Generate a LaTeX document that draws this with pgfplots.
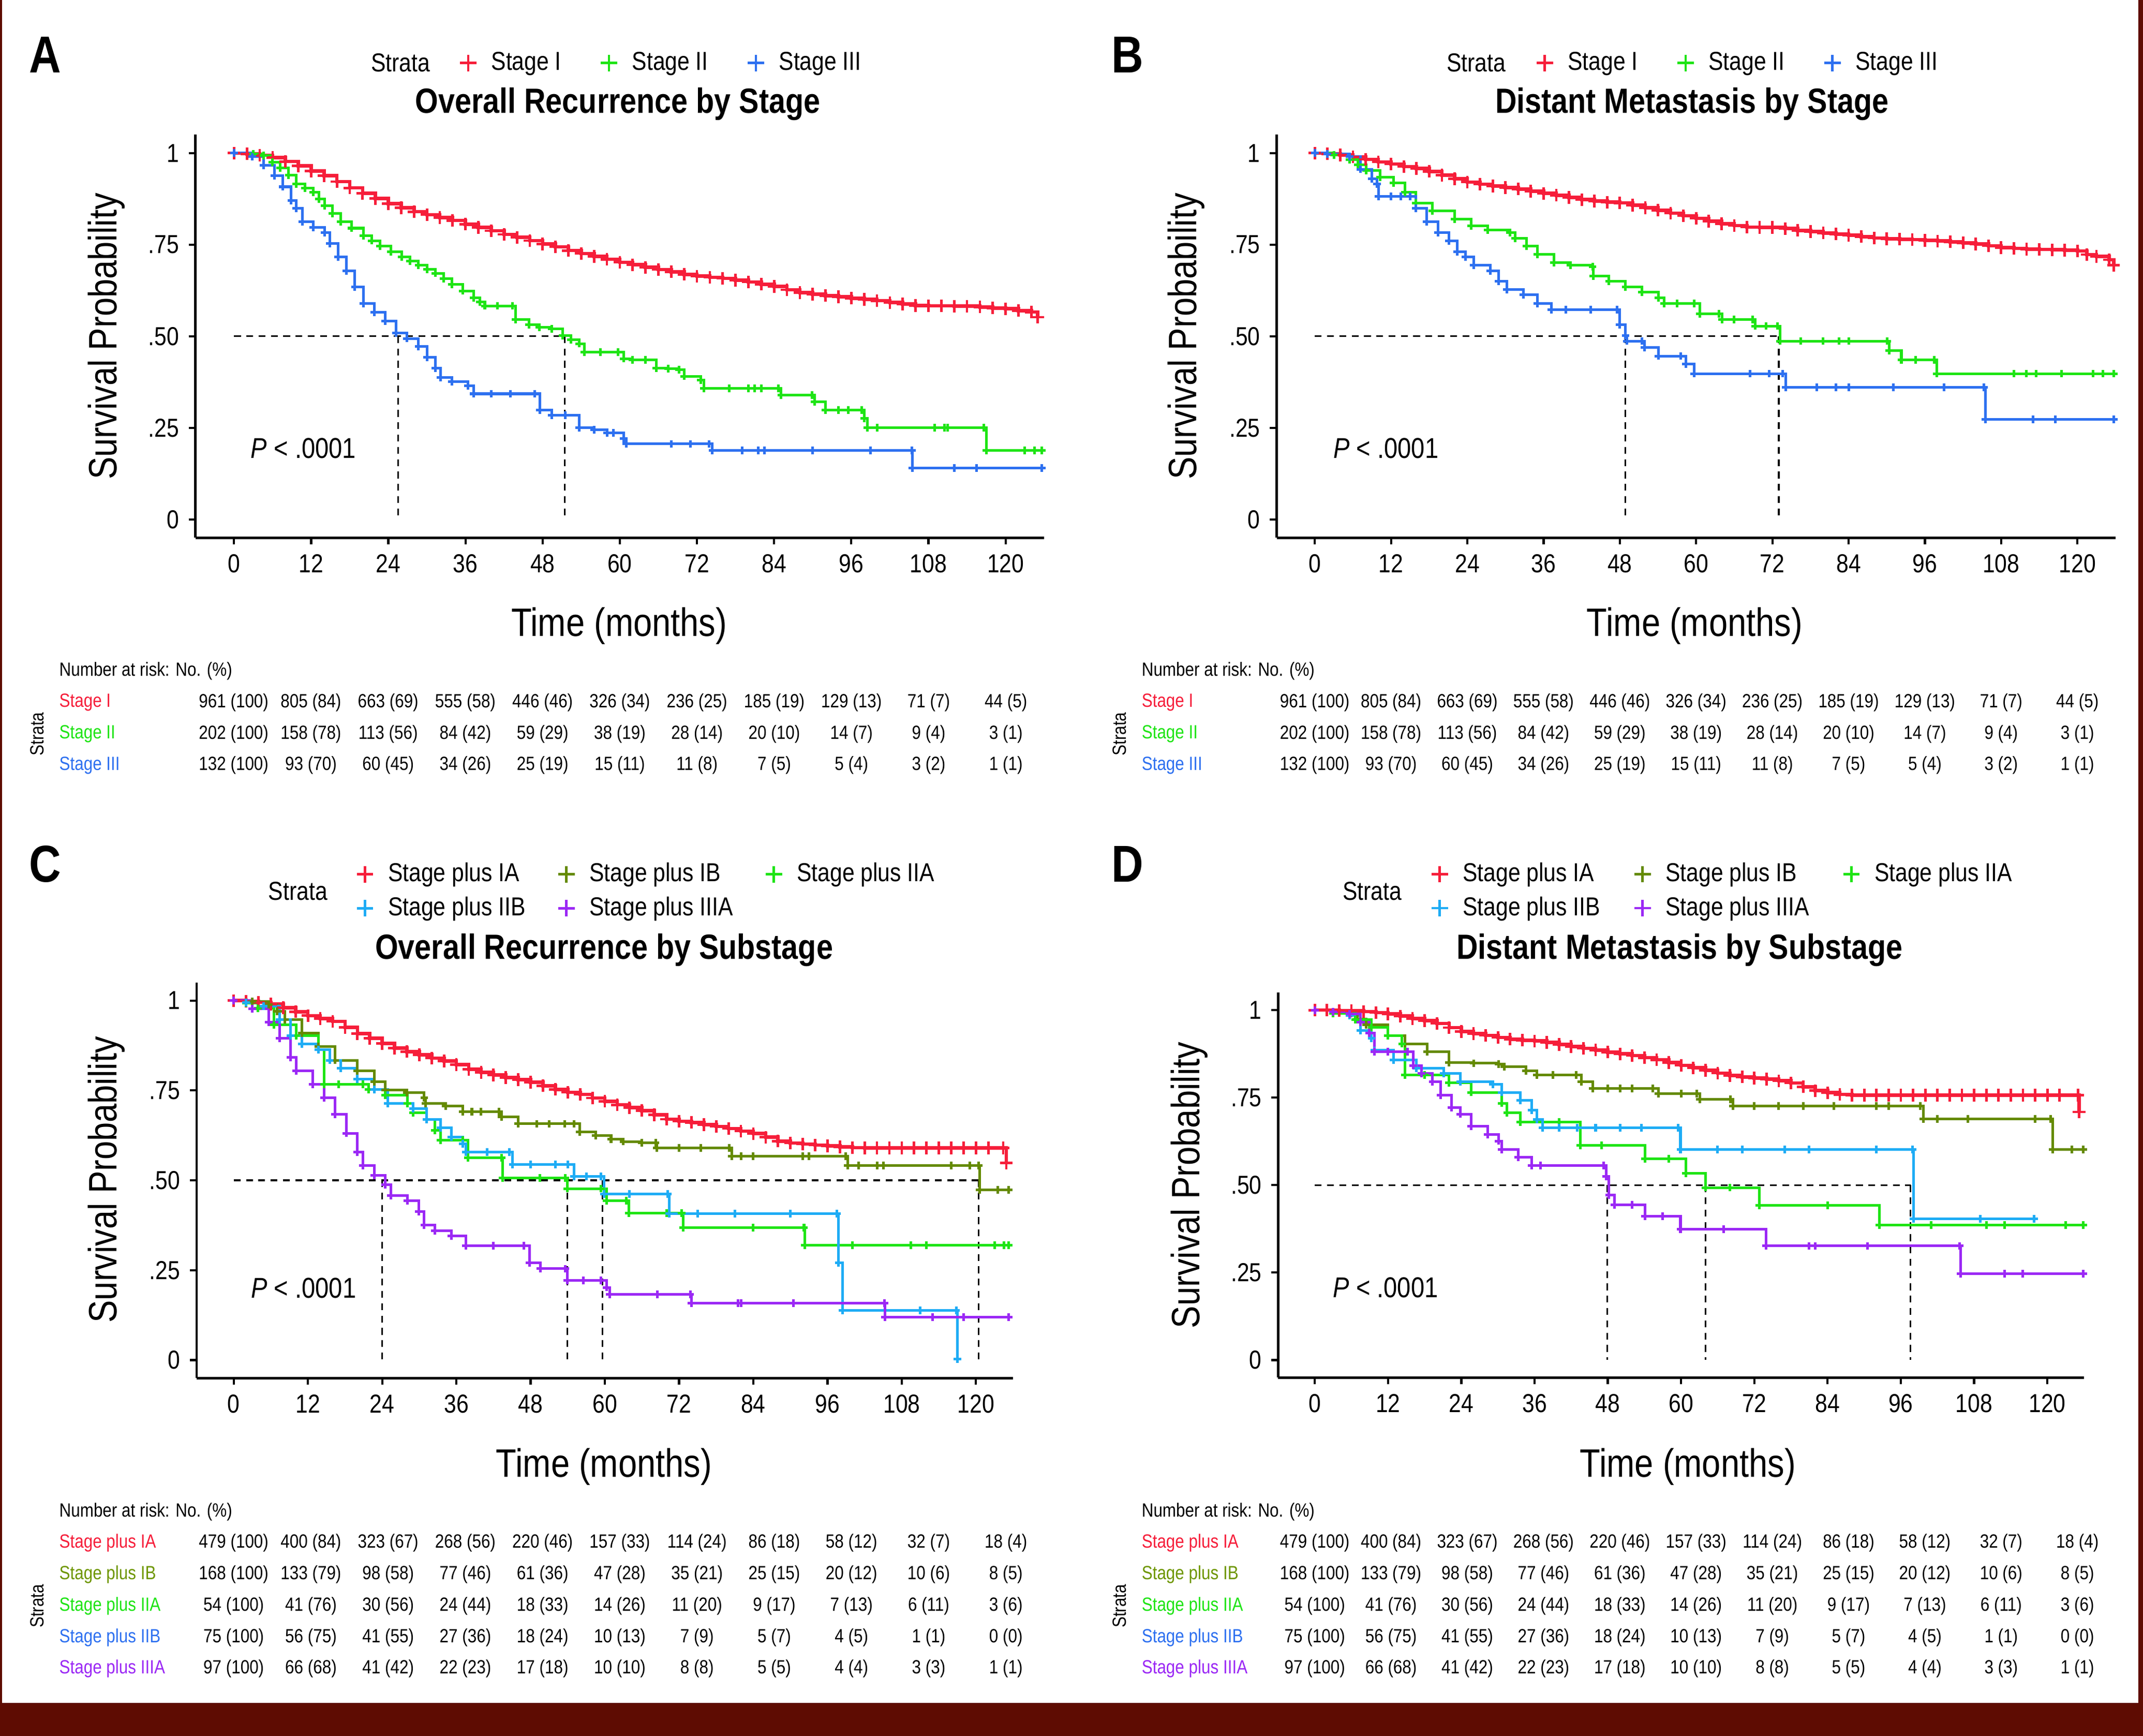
\documentclass[border=0pt]{standalone}
\usepackage{fontspec}
\setmainfont{Liberation Sans}[FakeStretch=0.85]
\usepackage{pgfplots}
\pgfplotsset{compat=1.18}

\definecolor{frame}{RGB}{94,12,2}
\definecolor{cI}{RGB}{246,30,58}
\definecolor{cII}{RGB}{30,228,20}
\definecolor{cIII}{RGB}{45,112,240}
\definecolor{cIB}{RGB}{100,138,0}
\definecolor{cIBt}{RGB}{110,150,0}
\definecolor{cIIB}{RGB}{30,172,245}
\definecolor{cIIIA}{RGB}{155,40,245}

\newcommand\fTick{\fontsize{9.5}{11}\selectfont}
\newcommand\fLab{\fontsize{14.5}{16}\selectfont}
\newcommand\fTitle{\fontsize{12.8}{14}\selectfont\bfseries}
\newcommand\fLeg{\fontsize{9.5}{11}\selectfont}
\newcommand\fRisk{\fontsize{7}{8}\selectfont}
\newcommand\fLetter{\fontsize{19}{21}\selectfont\bfseries}
\newcommand\fP{\fontsize{10.5}{12}\selectfont}
\def\px{0.5pt}

\pgfplotsset{
  km/.style={
    scale only axis, anchor=south west,
    axis x line*=bottom, axis y line*=left,
    axis line style={-, line width=0.9pt, black},
    ymin=-0.05, ymax=1.05, xmin=-6, xmax=126,
    xtick={0,12,...,120}, xticklabels={0,12,24,36,48,60,72,84,96,108,120},
    ytick={0,0.25,0.5,0.75,1}, yticklabels={0,.25,.50,.75,1},
    tick align=outside, major tick length=2.5pt,
    tick style={black, line width=0.8pt},
    ticklabel style={font=\fTick},
    legend style={draw=none, fill=none, font=\fLeg, anchor=west,
      /tikz/every odd column/.append style={column sep=3pt}},
    legend cell align=left,
    legend image code/.code={\draw[##1, sharp plot, line width=0.9pt, mark size=3pt, mark repeat=2, mark phase=2] plot coordinates {(0pt,0pt) (3pt,0pt) (6pt,0pt)};},
  },
  curve/.style={const plot, #1, line width=0.95pt, mark=+, mark size=1.4pt, every mark/.append style={solid}},
  redcurve/.style={curve=cI, line width=1.25pt, mark size=2.3pt, every mark/.append style={line width=0.9pt}},
  med/.style={black, sharp plot, mark=none, line width=0.6pt, dash pattern=on 2.5pt off 2pt, forget plot},
}

\newcommand\riskrow[4]{\foreach \v [count=\k from 0] in {#4} {\node[font=\fRisk, inner sep=0pt] at ({#1+#2*\k},#3) {\v};}}

\begin{document}
\begin{tikzpicture}
\begin{scope}[x=0.5pt, y=-0.5pt]
\useasboundingbox (0,0) rectangle (1568,1270);
\fill[frame] (0,0) rectangle (1568,1270);
\fill[white] (1.5,0) rectangle (1564.5,1246);
\end{scope}

% ---------------- A ----------------
\begin{axis}[km, at={({143*\px},{-393.4*\px})}, width=310.5pt, height=147.4pt,
  legend columns=-1, legend style={at={(0.300,1.178)},
  /tikz/every even column/.append style={column sep=12pt}}]
\addplot[med] coordinates {(0,0.5) (51.4,0.5)};
\addplot[med] coordinates {(25.5,0.5) (25.5,0)};
\addplot[med] coordinates {(51.4,0.5) (51.4,0)};
\addplot[redcurve] coordinates {(0,1) (2,.998) (4,.994) (6,.988) (8,.977) (10,.965) (12,.951) (14,.938) (16,.922) (18,.905) (20,.890) (22,.876) (24,.862) (26,.851) (28,.840) (30,.832) (32,.824) (34,.816) (36,.806) (38,.797) (40,.788) (42,.778) (44,.770) (46,.761) (48,.752) (50,.744) (52,.734) (54,.726) (56,.718) (58,.710) (60,.702) (62,.695) (64,.688) (66,.682) (68,.676) (70,.669) (72,.664) (74,.661) (76,.658) (78,.653) (80,.648) (82,.642) (84,.636) (86,.627) (88,.619) (90,.615) (92,.611) (94,.608) (96,.604) (98,.601) (100,.597) (102,.592) (104,.588) (106,.584) (108,.583) (110,.583) (112,.582) (114,.582) (116,.580) (118,.577) (120,.575) (122,.570) (124,.566) (125,.552)};
\addlegendentry{Stage I}
\addplot[curve=cII] coordinates {(0,1) (3,.998) (4.6,.993) (6,.975) (7.2,.96) (8.5,.94) (9.7,.916) (11,.905) (12.3,.893) (13.2,.875) (14.1,.857) (15.3,.835) (16.6,.812) (18.3,.795) (20.1,.775) (21.4,.761) (22.7,.746) (24.4,.731) (26.1,.716) (27.4,.705) (28.7,.694) (30,.683) (31.3,.672) (32.6,.657) (33.9,.642) (35.6,.624) (37.3,.605) (38.2,.594) (39,.583) (41,.583) (43.3,.583) (43.8,.546) (45.9,.531) (47.5,.525) (49.4,.520) (51.1,.502) (52.4,.491) (53.7,.480) (54.5,.457) (57,.457) (59.7,.457) (60.6,.439) (62,.436) (64,.435) (65.7,.413) (67.5,.411) (69.2,.409) (70,.391) (72.6,.380) (73.1,.358) (77,.358) (80,.358) (81,.358) (82,.358) (84.7,.358) (85.1,.339) (89.9,.339) (90.3,.321) (92,.299) (94,.299) (95.5,.299) (97.6,.299) (98,.276) (98.5,.251) (100,.251) (109,.251) (110.5,.251) (111,.251) (116.6,.251) (117,.188) (123,.188) (124.5,.188) (125.6,.188)};
\addlegendentry{Stage II}
\addplot[curve=cIII] coordinates {(0,1) (2.85,.990) (4.6,.967) (6.3,.938) (7.6,.908) (8.9,.871) (9.7,.849) (10.6,.812) (12.3,.797) (14.1,.783) (14.9,.753) (16.2,.716) (17.5,.679) (18.8,.635) (20.1,.590) (21.8,.565) (23.5,.542) (25.2,.509) (26.9,.494) (28.7,.472) (30,.443) (31.3,.413) (32.1,.387) (33.9,.376) (36.4,.365) (37.3,.343) (40,.343) (43,.343) (46.8,.343) (47.6,.299) (49.4,.284) (51.5,.284) (53.7,.251) (56,.245) (58,.236) (59,.236) (60.6,.221) (61,.206) (68,.206) (71,.206) (73.9,.206) (74.4,.188) (79,.188) (81.5,.188) (82.5,.188) (90,.188) (99,.188) (105.4,.188) (105.5,.140) (112,.140) (115.5,.140) (125.6,.140)};
\addlegendentry{Stage III}
\node[font=\fP] at (axis cs:10.8,0.194) {\textit{P} < .0001};
\end{axis}

% ---------------- B ----------------
\begin{axis}[km, at={({934.1*\px},{-393.4*\px})}, width=306.9pt, height=147.4pt,
  legend columns=-1, legend style={at={(0.298,1.178)},
  /tikz/every even column/.append style={column sep=12pt}}]
\addplot[med] coordinates {(0,0.5) (73.0,0.5)};
\addplot[med] coordinates {(48.9,0.5) (48.9,0)};
\addplot[med] coordinates {(73.0,0.5) (73.0,0)};
\addplot[redcurve] coordinates {(0,1) (2,.998) (4,.995) (6,.99) (8,.983) (10,.976) (12,.970) (14,.963) (16,.958) (18,.950) (20,.940) (22,.930) (24,.921) (26,.915) (28,.910) (30,.906) (32,.902) (34,.896) (36,.890) (38,.885) (40,.879) (42,.873) (44,.869) (46,.866) (48,.864) (50,.858) (52,.851) (54,.844) (56,.836) (58,.829) (60,.822) (62,.814) (64,.807) (66,.802) (68,.798) (70,.797) (72,.797) (74,.794) (76,.789) (78,.786) (80,.782) (82,.779) (84,.776) (86,.772) (88,.768) (90,.766) (92,.765) (94,.764) (96,.762) (98,.760) (100,.758) (102,.755) (104,.752) (106,.747) (108,.742) (110,.740) (112,.738) (114,.737) (116,.736) (118,.735) (120,.733) (121.5,.723) (123,.718) (125,.709) (125.7,.694)};
\addlegendentry{Stage I}
\addplot[curve=cII] coordinates {(0,1) (3,.995) (5.5,.982) (6.8,.968) (8.1,.953) (10.3,.934) (12.4,.919) (14.2,.893) (15.9,.864) (18.5,.842) (22,.820) (24.6,.801) (27.2,.790) (30.7,.783) (31.5,.768) (33.3,.746) (35,.723) (37.6,.701) (40.2,.694) (43.7,.690) (43.8,.664) (46.3,.650) (48.9,.635) (51.5,.620) (54.1,.605) (55,.590) (57,.590) (59.7,.590) (60.6,.561) (63.6,.561) (64.1,.546) (66,.546) (68.9,.546) (69.3,.528) (71,.528) (72.8,.528) (73.2,.487) (76.5,.487) (80,.487) (82.5,.487) (84,.487) (90.1,.487) (90.4,.461) (92.3,.435) (94.5,.435) (97.5,.435) (97.9,.398) (110,.398) (112,.398) (113.5,.398) (117.5,.398) (122.5,.398) (124,.398) (125.7,.398)};
\addlegendentry{Stage II}
\addplot[curve=cIII] coordinates {(0,1) (2,.998) (5.5,.990) (7.2,.956) (9,.930) (9.8,.916) (10,.882) (12,.882) (13.5,.882) (15,.882) (15.9,.849) (17.6,.812) (19.4,.783) (21.1,.760) (22.4,.731) (23.7,.716) (25,.694) (27.6,.679) (28.9,.650) (30.2,.627) (32.8,.613) (35,.590) (37.2,.572) (39.5,.572) (43.4,.572) (47.6,.572) (48,.531) (48.9,.502) (49.1,.487) (51.5,.487) (51.9,.469) (54.1,.446) (57.6,.446) (58.4,.424) (59.7,.398) (68.5,.398) (71.5,.398) (73.6,.398) (74.1,.361) (79,.361) (82,.361) (84,.361) (91,.361) (99,.361) (105.3,.361) (105.5,.273) (113,.273) (116.5,.273) (125.7,.273)};
\addlegendentry{Stage III}
\node[font=\fP] at (axis cs:11.2,0.194) {\textit{P} < .0001};
\end{axis}

% ---------------- C ----------------
\begin{axis}[km, at={({143.85*\px},{-1008.15*\px})}, width=298.7pt, height=144.65pt,
  legend columns=3, legend style={at={(0.184,1.231)},
  /tikz/every even column/.append style={column sep=9.5pt}}]
\addplot[med] coordinates {(0,0.5) (120.4,0.5)};
\addplot[med] coordinates {(24.0,0.5) (24.0,0)};
\addplot[med] coordinates {(53.9,0.5) (53.9,0)};
\addplot[med] coordinates {(59.6,0.5) (59.6,0)};
\addplot[med] coordinates {(120.4,0.5) (120.4,0)};
\addplot[redcurve] coordinates {(0,1) (2,.998) (4,.995) (6,.990) (8,.980) (10,.969) (12,.958) (14,.950) (16,.942) (18,.925) (20,.908) (22,.895) (24,.881) (26,.868) (28,.858) (30,.849) (32,.840) (34,.832) (36,.822) (38,.809) (40,.800) (42,.793) (44,.786) (46,.780) (48,.773) (50,.763) (52,.753) (54,.745) (56,.739) (58,.729) (60,.720) (62,.710) (64,.702) (66,.694) (68,.682) (70,.670) (72,.664) (74,.661) (76,.655) (78,.650) (80,.644) (82,.637) (84,.630) (86,.620) (88,.609) (90,.604) (92,.601) (94,.598) (96,.596) (98,.593) (100,.591) (102,.590) (104,.590) (106,.590) (108,.590) (110,.590) (112,.590) (114,.590) (116,.590) (118,.590) (120,.590) (122,.590) (124.4,.590) (124.9,.548)};
\addlegendentry{Stage plus IA}
\addplot[curve=cIB] coordinates {(0,1) (3,.997) (5.65,.989) (7,.970) (8.3,.947) (11,.910) (13.7,.872) (16.4,.834) (20,.804) (22.7,.774) (24.5,.751) (28,.744) (30.8,.729) (31,.714) (34.3,.706) (37,.691) (38.5,.691) (40,.691) (42.9,.691) (43.3,.676) (46,.657) (49,.657) (51,.657) (53.5,.657) (55,.657) (55.9,.635) (58.5,.624) (61,.615) (63,.608) (66,.605) (68.2,.605) (68.4,.590) (72,.590) (75.5,.590) (80.1,.590) (80.5,.567) (82,.567) (84,.567) (92,.567) (93,.567) (98.9,.567) (99.3,.541) (101,.541) (104,.541) (105,.541) (116,.541) (119,.541) (120.4,.541) (120.6,.473) (123.5,.473) (125.3,.473)};
\addlegendentry{Stage plus IB}
\addplot[curve=cII] coordinates {(0,1) (2,.993) (3.9,.978) (6.5,.932) (10.1,.902) (13.7,.864) (14.6,.767) (17,.767) (20.9,.767) (21.8,.752) (24.5,.737) (28.1,.714) (29,.688) (31.2,.669) (32.5,.639) (33.4,.612) (37,.612) (37.9,.563) (43.3,.563) (43.5,.507) (49.5,.507) (53.6,.507) (53.9,.477) (59.4,.477) (60.3,.443) (63.5,.443) (63.9,.409) (70,.409) (72.4,.409) (72.7,.368) (84,.368) (92.2,.368) (92.3,.320) (100,.320) (109.5,.320) (112,.320) (123,.320) (124.5,.320) (125.3,.320)};
\addlegendentry{Stage plus IIA}
\addplot[curve=cIIB] coordinates {(0,1) (2,.995) (4.8,.985) (7.4,.947) (9.2,.902) (11,.879) (13.7,.864) (15.5,.834) (17.3,.812) (20,.782) (22.7,.752) (24.9,.714) (29,.699) (31.2,.669) (33.4,.646) (35.2,.620) (37,.601) (37.5,.578) (41,.578) (44.6,.578) (45.1,.544) (48,.544) (52,.544) (54,.544) (55,.511) (57,.511) (59.4,.511) (59.9,.462) (64,.462) (70.2,.462) (70.4,.407) (75,.407) (81,.407) (90,.407) (97.5,.407) (97.8,.270) (98.4,.138) (111,.138) (116.8,.138) (117,0.003)};
\addlegendentry{Stage plus IIB}
\addplot[curve=cIIIA] coordinates {(0,1) (3,.977) (5.65,.940) (7.4,.895) (9.2,.842) (10.1,.804) (12.8,.767) (14.6,.729) (16.4,.684) (18.2,.631) (20,.578) (20.9,.541) (22.7,.514) (24.5,.488) (25.4,.458) (28.1,.443) (29.9,.413) (30.8,.375) (32.5,.360) (35.2,.345) (37.5,.318) (42,.318) (46.9,.318) (47.8,.270) (49.6,.254) (53.6,.254) (53.9,.221) (56.5,.221) (59.4,.221) (60.3,.202) (60.8,.183) (68.5,.183) (73.8,.183) (74,.158) (81.5,.158) (82,.158) (90.5,.158) (105.2,.158) (105.3,.119) (113,.119) (118,.119) (125.3,.119)};
\addlegendentry{Stage plus IIIA}
\node[font=\fP] at (axis cs:11.3,0.2) {\textit{P} < .0001};
\end{axis}

% ---------------- D ----------------
\begin{axis}[km, at={({935.2*\px},{-1007.8*\px})}, width=294.8pt, height=140.8pt,
  legend columns=3, legend style={at={(0.178,1.2635)},
  /tikz/every even column/.append style={column sep=10pt}}]
\addplot[med] coordinates {(0,0.5) (97.6,0.5)};
\addplot[med] coordinates {(47.9,0.5) (47.9,0)};
\addplot[med] coordinates {(64.0,0.5) (64.0,0)};
\addplot[med] coordinates {(97.6,0.5) (97.6,0)};
\addplot[redcurve] coordinates {(0,1) (2,1) (4,.999) (6,.998) (8,.996) (10,.993) (12,.989) (14,.983) (16,.976) (18,.970) (20,.962) (22,.950) (24,.939) (26,.933) (28,.928) (30,.922) (32,.917) (34,.914) (36,.912) (38,.908) (40,.902) (42,.896) (44,.891) (46,.886) (48,.880) (50,.875) (52,.870) (54,.864) (56,.858) (58,.850) (60,.842) (62,.835) (64,.828) (66,.820) (68,.813) (70,.809) (72,.806) (74,.803) (76,.798) (78,.792) (80,.781) (82,.770) (84,.764) (86,.759) (88,.757) (90,.757) (92,.757) (94,.757) (96,.757) (98,.757) (100,.757) (102,.757) (104,.757) (106,.757) (108,.757) (110,.757) (112,.757) (114,.757) (116,.757) (118,.757) (120,.757) (122,.757) (125,.757) (125.2,.709)};
\addlegendentry{Stage plus IA}
\addplot[curve=cIB] coordinates {(0,1) (3,.995) (5.7,.989) (7,.975) (8.4,.958) (12,.927) (14.8,.904) (18.4,.881) (22,.850) (26,.848) (30.1,.846) (31,.838) (34.6,.827) (36.4,.815) (39,.815) (42.8,.815) (43.7,.796) (45.5,.776) (48,.776) (50,.776) (52,.776) (55.4,.776) (56.3,.762) (60,.762) (62.6,.762) (63.1,.745) (68.1,.745) (68.5,.726) (72,.726) (76,.726) (80,.726) (85,.726) (92,.726) (94,.726) (99.2,.726) (99.7,.689) (102,.689) (107,.689) (118,.689) (120.5,.689) (120.9,.602) (124,.602) (125.9,.602)};
\addlegendentry{Stage plus IB}
\addplot[curve=cII] coordinates {(0,1) (3,.99) (6.6,.973) (9.3,.950) (12,.927) (14.3,.904) (14.8,.815) (18,.815) (22,.792) (25.6,.765) (30.6,.734) (31.5,.707) (33.7,.680) (40,.680) (43.5,.614) (47,.614) (54.1,.575) (58,.575) (60.8,.533) (64,.493) (68,.493) (72.8,.442) (84,.442) (92.5,.386) (101,.386) (110,.386) (113,.386) (123,.386) (125.9,.386)};
\addlegendentry{Stage plus IIA}
\addplot[curve=cIIB] coordinates {(0,1) (3,.995) (5.7,.985) (7.5,.942) (9.3,.919) (9.8,.885) (12.9,.858) (16.6,.834) (21.1,.819) (23.8,.796) (29.2,.788) (30.6,.765) (33.7,.742) (35.5,.714) (36.4,.688) (37.3,.664) (40,.664) (43,.664) (46,.664) (50,.664) (53.5,.664) (59.5,.664) (59.9,.602) (66,.602) (70,.602) (77,.602) (81,.602) (92,.602) (97.9,.602) (98.1,.403) (109,.403) (117.8,.403)};
\addlegendentry{Stage plus IIB}
\addplot[curve=cIIIA] coordinates {(0,1) (3,.995) (5.7,.989) (7.5,.966) (8.9,.935) (9.8,.881) (12,.881) (15.2,.881) (16.1,.842) (17.5,.819) (19.3,.796) (20.6,.757) (22.4,.722) (23.8,.703) (25.6,.668) (28.3,.645) (30.1,.626) (30.6,.602) (33.3,.579) (35.5,.556) (37,.556) (47.3,.556) (47.7,.525) (48.2,.471) (49.1,.444) (52,.444) (54.1,.411) (57,.411) (59.9,.374) (67,.374) (73.9,.326) (81,.326) (82,.326) (90.5,.326) (105.6,.326) (105.8,.247) (113,.247) (116,.247) (125.9,.247)};
\addlegendentry{Stage plus IIIA}
\node[font=\fP] at (axis cs:11.6,0.207) {\textit{P} < .0001};
\end{axis}

% ---------------- texts and risk tables ----------------
\begin{scope}[x=0.5pt, y=-0.5pt]
\node[font=\fLetter] at (33,40) {A};
\node[font=\fLetter] at (825,40) {B};
\node[font=\fLetter] at (33,632) {C};
\node[font=\fLetter] at (825,632) {D};

\node[font=\fLeg] at (293,46) {Strata};
\node[font=\fLeg] at (1080,46) {Strata};
\node[font=\fLeg] at (218,652) {Strata};
\node[font=\fLeg] at (1004,652) {Strata};

\node[font=\fTitle] at (452,76) {Overall Recurrence by Stage};
\node[font=\fTitle] at (1238,76) {Distant Metastasis by Stage};
\node[font=\fTitle] at (442,695) {Overall Recurrence by Substage};
\node[font=\fTitle] at (1229,695) {Distant Metastasis by Substage};

\node[font=\fLab, rotate=90] at (78,246) {Survival Probability};
\node[font=\fLab, rotate=90] at (868,246) {Survival Probability};
\node[font=\fLab, rotate=90] at (78,863) {Survival Probability};
\node[font=\fLab, rotate=90] at (870,867) {Survival Probability};
\node[font=\fLab] at (453,458) {Time (months)};
\node[font=\fLab] at (1240,458) {Time (months)};
\node[font=\fLab] at (442,1073) {Time (months)};
\node[font=\fLab] at (1235,1073) {Time (months)};

% risk tables, stage
\foreach \xo/\xl/\st in {171/43/56.5, 962/835/55.8} {
  \node[font=\fRisk, anchor=west, inner sep=0pt] at (\xl,491) {Number at risk: No. (\%)};
  \node[font=\fRisk, rotate=90, inner sep=0pt] at (\xl-16,537) {Strata};
  \node[font=\fRisk, anchor=west, inner sep=0pt, text=cI] at (\xl,514) {Stage I};
  \node[font=\fRisk, anchor=west, inner sep=0pt, text=cII] at (\xl,537) {Stage II};
  \node[font=\fRisk, anchor=west, inner sep=0pt, text=cIII] at (\xl,560) {Stage III};
  \riskrow{\xo}{\st}{514}{961 (100),805 (84),663 (69),555 (58),446 (46),326 (34),236 (25),185 (19),129 (13),71 (7),44 (5)}
  \riskrow{\xo}{\st}{537}{202 (100),158 (78),113 (56),84 (42),59 (29),38 (19),28 (14),20 (10),14 (7),9 (4),3 (1)}
  \riskrow{\xo}{\st}{560}{132 (100),93 (70),60 (45),34 (26),25 (19),15 (11),11 (8),7 (5),5 (4),3 (2),1 (1)}
}
% risk tables, substage
\foreach \xo/\xl/\st in {171/43/56.5, 962/835/55.8} {
  \node[font=\fRisk, anchor=west, inner sep=0pt] at (\xl,1106) {Number at risk: No. (\%)};
  \node[font=\fRisk, rotate=90, inner sep=0pt] at (\xl-16,1175) {Strata};
  \node[font=\fRisk, anchor=west, inner sep=0pt, text=cI] at (\xl,1129) {Stage plus IA};
  \node[font=\fRisk, anchor=west, inner sep=0pt, text=cIBt] at (\xl,1152) {Stage plus IB};
  \node[font=\fRisk, anchor=west, inner sep=0pt, text=cII] at (\xl,1175) {Stage plus IIA};
  \node[font=\fRisk, anchor=west, inner sep=0pt, text=cIII] at (\xl,1198) {Stage plus IIB};
  \node[font=\fRisk, anchor=west, inner sep=0pt, text=cIIIA] at (\xl,1221) {Stage plus IIIA};
  \riskrow{\xo}{\st}{1129}{479 (100),400 (84),323 (67),268 (56),220 (46),157 (33),114 (24),86 (18),58 (12),32 (7),18 (4)}
  \riskrow{\xo}{\st}{1152}{168 (100),133 (79),98 (58),77 (46),61 (36),47 (28),35 (21),25 (15),20 (12),10 (6),8 (5)}
  \riskrow{\xo}{\st}{1175}{54 (100),41 (76),30 (56),24 (44),18 (33),14 (26),11 (20),9 (17),7 (13),6 (11),3 (6)}
  \riskrow{\xo}{\st}{1198}{75 (100),56 (75),41 (55),27 (36),18 (24),10 (13),7 (9),5 (7),4 (5),1 (1),0 (0)}
  \riskrow{\xo}{\st}{1221}{97 (100),66 (68),41 (42),22 (23),17 (18),10 (10),8 (8),5 (5),4 (4),3 (3),1 (1)}
}
\end{scope}
\end{tikzpicture}
\end{document}
